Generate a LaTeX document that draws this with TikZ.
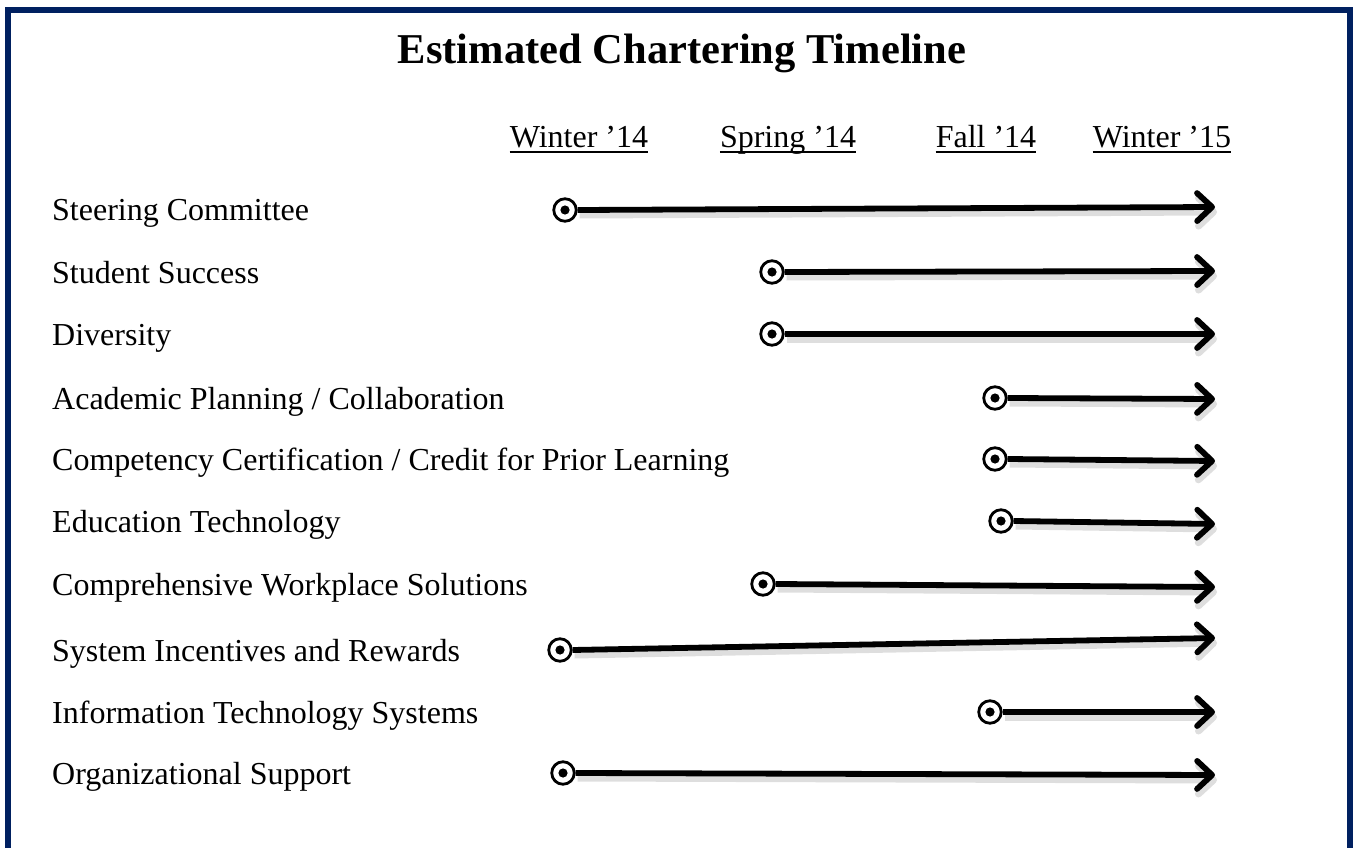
\documentclass[tikz,border=0pt]{standalone}
\usepackage{fontspec}
\setmainfont{Liberation Serif}
\usetikzlibrary{arrows.meta}
\definecolor{framenavy}{HTML}{002060}
\tikzset{
  lab/.style = {anchor=base west, inner sep=0pt, font=\fontsize{32}{36}\selectfont},
  season/.style = {anchor=base, inner sep=0pt, font=\fontsize{32}{36}\selectfont},
  dot/.style = {circle, draw, line width=2.8pt, minimum size=22.5pt, inner sep=0pt, fill=white},
  bar/.style = {line width=5.8pt, -{Straight Barb[length=15pt,width=28pt,line cap=round,line join=round]},
    preaction={draw=black!13, line width=7pt, transform canvas={shift={(2pt,-5pt)}}}}
}
\begin{document}
\begin{tikzpicture}[x=1pt,y=-1pt]
	\useasboundingbox (0,0) rectangle (1353,848);
	\clip (0,0) rectangle (1353,848);
	\draw[framenavy, line width=6pt] (8,10) rectangle (1350,880);
	\node[inner sep=0pt, font=\bfseries\fontsize{42.5}{46}\selectfont] (title) at (682,53) {Estimated Chartering Timeline};
	% season headings
	\foreach \nm/\txt/\x in {w14/Winter '14/579, s14/Spring '14/788, f14/Fall '14/986, w15/Winter '15/1162}{
		\node[season] (\nm) at (\x,148) {\txt};
		\draw[line width=1.4pt] ([yshift=-4pt]\nm.base west) -- ([yshift=-4pt]\nm.base east);
	}
	% committees
	\foreach \txt/\xs/\ys/\ye [count=\i] in {
		{Steering Committee}/565/210/207,
		{Student Success}/772/272/271,
		{Diversity}/772/334/334,
		{Academic Planning / Collaboration}/995/398/399,
		{Competency Certification / Credit for Prior Learning}/995/459/461,
		{Education Technology}/1001/521/524,
		{Comprehensive Workplace Solutions}/763/584/587,
		{System Incentives and Rewards}/560/650/638,
		{Information Technology Systems}/990/712/712,
		{Organizational Support}/563/773/775}{
		\node[lab] (lab\i) at (52,\ys+11) {\txt};
		\coordinate (tip\i) at (1215,\ye);
		\node[dot] (dot\i) at (\xs,\ys) {};
		\fill (dot\i.center) circle (4.6pt);
		\draw[bar] (dot\i.east) -- (tip\i);
	}
\end{tikzpicture}
\end{document}
